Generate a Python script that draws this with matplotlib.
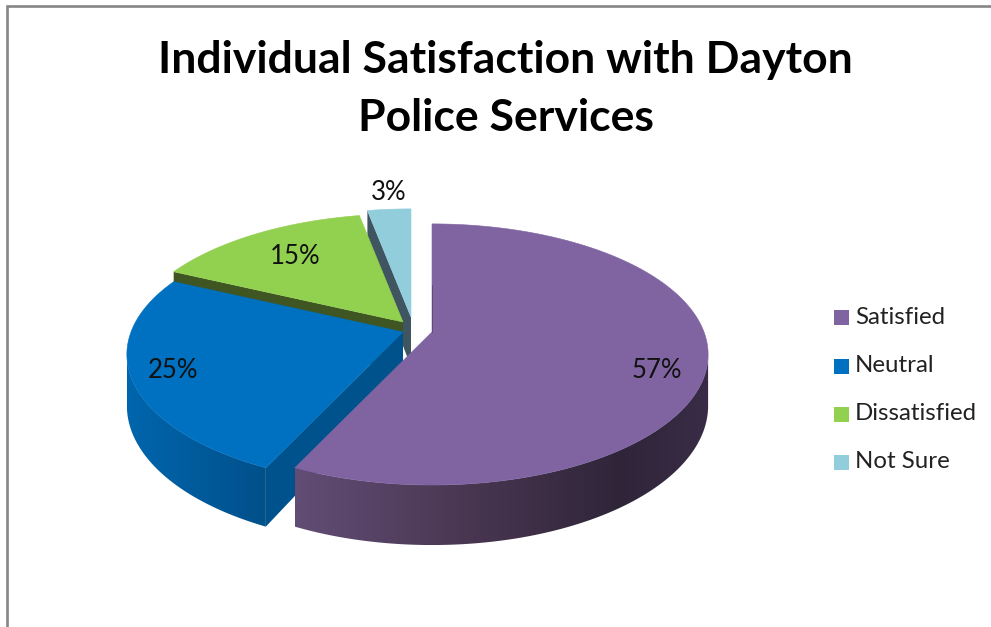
import numpy as np
import matplotlib
matplotlib.use("Agg")
import matplotlib.pyplot as plt
from matplotlib.patches import Polygon, Rectangle

# Survey results
categories = ["Satisfied", "Neutral", "Dissatisfied", "Not Sure"]
shares = [57, 25, 15, 3]
title = "Individual Satisfaction with Dayton\nPolice Services"

top_colors = ["#8064a2", "#0070c0", "#92d050", "#92cddc"]
cut_colors = ["#3a2c48", "#00528c", "#3f5522", "#3f5560"]
# rim shading: x position -> colour, per slice
rim_stops = [
    ([300, 480, 620, 710], ["#614c74", "#47354f", "#2f2539", "#3a2c47"]),
    ([125, 265], ["#0066ae", "#00508a"]),
    ([170, 360], ["#6d9c3c", "#4f7229"]),
    ([365, 415], ["#6d9aa6", "#4f727c"]),
]

# pie tip of each exploded slice, in pixels
tips = [(432, 332), (403, 332), (403, 322), (411, 317)]
label_pos = [(657, 370), (173, 371), (295, 257), (389, 192)]
legend_y = [317, 366, 414, 462]

# projection of the tilted disc
RX, RY, PERSP, DEPTH = 272.0, 126.7, 0.172, 49.7


def project(theta, tip):
    d = 1 + PERSP * np.cos(theta)
    x = tip[0] + RX * np.sin(theta) / d
    y = tip[1] - RY * np.cos(theta) / d
    return x, y, DEPTH / d


def rim_image(x0, x1, stops):
    xs, cols = stops
    rgb = np.array([matplotlib.colors.to_rgb(c) for c in cols])
    grid = np.linspace(x0, x1, 256)
    return np.dstack([np.interp(grid, xs, rgb[:, k]) for k in range(3)])


fig = plt.figure(figsize=(9.91, 6.27), dpi=100)
ax = fig.add_axes([0, 0, 1, 1])
ax.axis("off")

# frame only on the top and left
ax.plot([7, 7, 991], [627, 6, 6], color="#868686", lw=1.9, solid_joinstyle="miter")

edges = np.cumsum([0] + shares) / sum(shares) * 2 * np.pi

# back slices first so the front ones overlap them
for i in [3, 2, 1, 0]:
    z = 5 + (3 - i) * 3
    start, end = edges[i], edges[i + 1]
    t = np.linspace(start, end, 240)
    x, y, dep = project(t, tips[i])

    # straight cut: only the side turned to the viewer shows
    for a, sign in ((start, -1), (end, 1)):
        if sign * np.sin(a) > 1e-6:
            xa, ya, da = project(a, tips[i])
            face = [tips[i], (xa, ya), (xa, ya + da), (tips[i][0], tips[i][1] + DEPTH)]
            ax.add_patch(Polygon(face, closed=True, fc=cut_colors[i], ec="none", zorder=z))

    # outer rim, front part of the disc only
    front = np.cos(t) < -PERSP
    if front.any():
        xf, yf, df = x[front], y[front], dep[front]
        outline = np.vstack([np.column_stack([xf, yf]),
                             np.column_stack([xf, yf + df])[::-1]])
        clip = Polygon(outline, closed=True, fc="none", ec="none", transform=ax.transData)
        ax.add_patch(clip)
        im = ax.imshow(rim_image(xf.min(), xf.max(), rim_stops[i]),
                       extent=(xf.min(), xf.max(), (yf + df).max(), yf.min()),
                       aspect="auto", zorder=z + 1, interpolation="bilinear")
        im.set_clip_path(clip)

    top = np.vstack([[tips[i]], np.column_stack([x, y])])
    ax.add_patch(Polygon(top, closed=True, fc=top_colors[i], ec=top_colors[i], lw=0.4, zorder=z + 2))

# shaded lip on the straight edge of the big slice
ax.plot([432, 432], [285, 332], color="#5a4670", lw=0.6, zorder=20)

ax.set_xlim(0, 991)
ax.set_ylim(627, 0)

for v, (lx, ly) in zip(shares, label_pos):
    ax.text(lx, ly, f"{v}%", ha="center", va="center", fontsize=18.5, family="Lato",
            color="#111111", zorder=30)

ax.text(505.5, 89, title, ha="center", va="center", fontsize=32, fontweight="bold",
        family="Lato", color="black", linespacing=1.52, zorder=30)

for name, c, ly in zip(categories, top_colors, legend_y):
    ax.add_patch(Rectangle((834, ly - 7), 15, 15, fc=c, ec="none"))
    ax.text(855, ly, name, ha="left", va="center", fontsize=17.3, family="Lato", color="#222222")

fig.savefig("out.png", dpi=100)
